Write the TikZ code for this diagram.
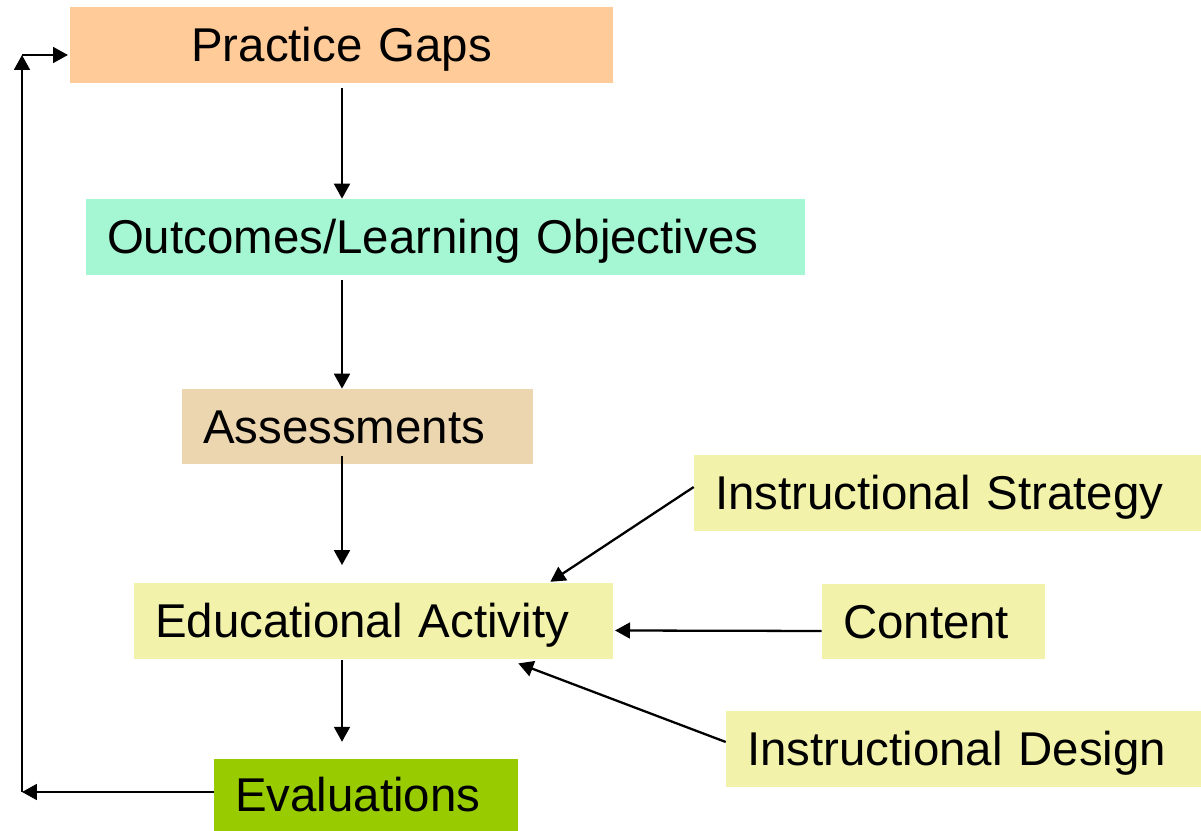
\documentclass[tikz,border=0pt]{standalone}
\usepackage{fontspec}
\setmainfont{Liberation Sans}
\usetikzlibrary{arrows.meta}

\definecolor{pesca}{HTML}{FFCC99}
\definecolor{menta}{HTML}{A5F6D3}
\definecolor{sabbia}{HTML}{ECD6B0}
\definecolor{paglia}{HTML}{F2F2AA}
\definecolor{lime}{HTML}{99CC00}

\tikzset{
  scatola/.style={draw=none, inner xsep=0.42cm, inner ysep=0pt, align=left,
    text height=19.2pt, text depth=0pt,
    font=\fontsize{27pt}{32pt}\selectfont},
  freccia/.style={-{Triangle[length=8.5pt,width=9pt]}, line width=1.3pt}
}

\begin{document}
\begin{tikzpicture}[x=0.02cm, y=-0.02cm]
    \useasboundingbox (0,0) rectangle (1201,831);

    % riquadri
    \node[scatola, fill=pesca, align=center, minimum height=1.52cm, text width=10.02cm] (gaps) at (341.5,45) {Practice Gaps};
    \node[scatola, fill=menta, minimum height=1.52cm, text width=13.54cm] (obiettivi) at (445.5,237) {Outcomes/Learning Objectives};
    \node[scatola, fill=sabbia, minimum height=1.50cm, text width=6.18cm] (verifiche) at (357.5,426.5) {Assessments};
    \node[scatola, fill=paglia, minimum height=1.52cm, text width=8.74cm] (attivita) at (373.5,621) {Educational Activity};
    \node[scatola, fill=paglia, minimum height=1.52cm, text width=9.30cm] (strategia) at (947.5,493) {Instructional Strategy};
    \node[scatola, fill=paglia, minimum height=1.50cm, text width=3.62cm] (contenuto) at (933.5,621.5) {Content};
    \node[scatola, fill=paglia, minimum height=1.52cm, text width=8.66cm] (progetto) at (963.5,749) {Instructional Design};
    \node[scatola, fill=lime, minimum height=1.44cm, text width=5.24cm] (valutazioni) at (366,795) {Evaluations};

    \coordinate (asse) at (342,0);
    \coordinate (angolobasso) at (22,792);
    \coordinate (angoloalto) at (22,55);

    % catena verticale
    \draw[freccia, shorten <=2.8pt] (gaps.south -| asse) -- (obiettivi.north -| asse);
    \draw[freccia, shorten <=2.8pt] (obiettivi.south -| asse) -- (verifiche.north -| asse);
    \draw[freccia, shorten <=-5pt, shorten >=10pt] (verifiche.south -| asse) -- (attivita.north -| asse);
    \draw[freccia, shorten <=0.5pt, shorten >=9.6pt] (attivita.south -| asse) -- (valutazioni.north -| asse);

    % ritorno
    \draw[freccia] (valutazioni.west |- angolobasso) -- (angolobasso);
    \draw[freccia] (angolobasso) -- (angoloalto);
    \draw[freccia, shorten >=1pt] (angoloalto) -- (gaps.west |- angoloalto);

    % ingressi laterali
    \draw[freccia] ([yshift=3.4pt]strategia.west) -- ([xshift=-1.26cm, yshift=0.5pt]attivita.north east);
    \draw[freccia, shorten >=1pt] ([yshift=-5.4pt]contenuto.west) -- ([yshift=-5.4pt]attivita.east);
    \draw[freccia] ([yshift=4pt]progetto.west) -- ([xshift=-1.9cm, yshift=-2.3pt]attivita.south east);
\end{tikzpicture}
\end{document}
